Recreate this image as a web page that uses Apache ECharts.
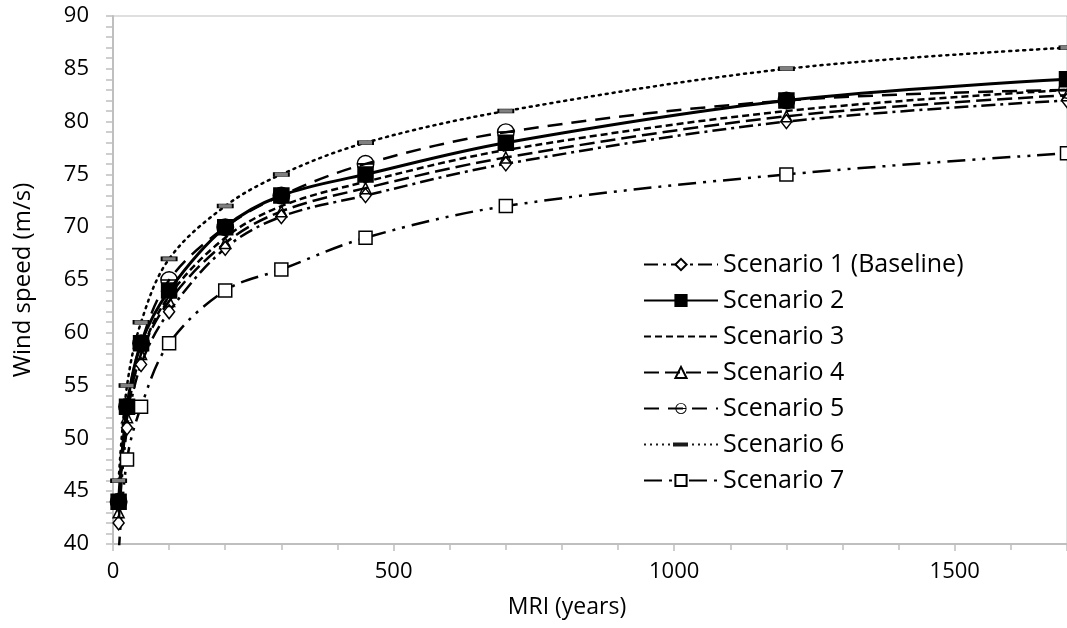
<!DOCTYPE html>
<html>
<head>
<meta charset="utf-8">
<script src="https://cdn.jsdelivr.net/npm/echarts@6/dist/echarts.min.js"></script>
<style>
html,body{margin:0;padding:0;background:#fff;}
#main{width:1067px;height:628px;}
</style>
</head>
<body>
<div id="main"></div>
<script>
// MRI (years)
var mri = [10, 25, 50, 100, 200, 300, 450, 700, 1200, 1700];
// wind speed (m/s)
var s1 = [42, 51, 57, 62, 68, 71, 73, 76, 80, 82];
var s2 = [44, 53, 59, 64, 70, 73, 75, 78, 82, 84];
var s3 = [43.5, 52, 58, 63.5, 69, 72, 74.3, 77.3, 81, 83];
var s4 = [43, 52, 58, 63, 68.5, 71.5, 73.7, 76.6, 80.5, 82.5];
var s5 = [44, 53, 59, 65, 70, 73, 76, 79, 82, 83];
var s6 = [46, 55, 61, 67, 72, 75, 78, 81, 85, 87];
var s7 = [39, 48, 53, 59, 64, 66, 69, 72, 75, 77];
var names = ['Scenario 1 (Baseline)', 'Scenario 2', 'Scenario 3', 'Scenario 4', 'Scenario 5', 'Scenario 6', 'Scenario 7'];

var font = '"Open Sans", "DejaVu Sans", sans-serif';
// circle with a bar through it
var circleBar = 'path://M0,-10 A10,10 0 1,1 0,10 A10,10 0 1,1 0,-10 Z M0,-8.4 A8.4,8.4 0 1,0 0,8.4 A8.4,8.4 0 1,0 0,-8.4 Z M-9,-0.9 L9,-0.9 L9,0.9 L-9,0.9 Z';

// legend sample for scenario 6: dots with a small bar in the middle
function dotBarIcon(){
	var p = 'path://';
	var xs = [1, 7, 13, 19, 25, 49, 55, 61, 67, 73];
	for(var i=0;i<xs.length;i++){
		p += 'M' + xs[i] + ',6 L' + (xs[i]+2) + ',6 L' + (xs[i]+2) + ',8 L' + xs[i] + ',8 Z ';
	}
	p += 'M30,5 L45,5 L45,9 L30,9 Z';
	return p;
}

function pairs(ys){
	var out = [];
	for(var i=0;i<mri.length;i++){
		out.push([mri[i], ys[i]]);
	}
	return out;
}

function line(name, ys, dash, width, symbol, size, fill){
	return {
		name: name,
		type: 'line',
		smooth: 0.35,
		data: pairs(ys),
		symbol: symbol,
		symbolSize: size,
		showAllSymbol: true,
		clip: true,
		lineStyle: {color: '#000', width: width, type: dash, cap: 'butt'},
		itemStyle: {color: fill, borderColor: '#000', borderWidth: 1.5},
		emphasis: {disabled: true}
	};
}

var legendData = [];
for(var i=0;i<names.length;i++){
	legendData.push({name: names[i]});
}
legendData[5].icon = dotBarIcon();
legendData[5].itemStyle = {color: '#1a1a1a', borderWidth: 0};

var chart = echarts.init(document.getElementById('main'));
var option = {
	animation: false,
	backgroundColor: '#fff',
	grid: {
		left: 113, top: 16, width: 959, height: 528,
		show: true, borderColor: '#bfbfbf', borderWidth: 1, backgroundColor: 'transparent'
	},
	legend: {
		orient: 'vertical',
		left: 638,
		top: 247,
		itemWidth: 74,
		itemHeight: 14,
		itemGap: 11,
		data: legendData,
		textStyle: {fontFamily: font, fontSize: 25, color: '#000'}
	},
	xAxis: {
		type: 'value',
		min: 0, max: 1700, interval: 500,
		name: 'MRI (years)',
		nameLocation: 'middle',
		nameGap: 52,
		nameTextStyle: {fontFamily: font, fontSize: 23, color: '#000', padding: [0, 46, 0, 0]},
		axisLine: {show: true, lineStyle: {color: '#bfbfbf', width: 2}},
		axisTick: {show: true, length: 7, lineStyle: {color: '#bfbfbf', width: 1.5}},
		minorTick: {show: true, splitNumber: 5, length: 6, lineStyle: {color: '#bfbfbf', width: 1.5}},
		splitLine: {show: false},
		axisLabel: {
			fontFamily: font, fontSize: 22, color: '#000', margin: 17, showMaxLabel: false,
			formatter: function(v){ return String(v); }
		}
	},
	yAxis: {
		type: 'value',
		min: 40, max: 90, interval: 5,
		name: 'Wind speed (m/s)',
		nameLocation: 'middle',
		nameGap: 78,
		nameTextStyle: {fontFamily: font, fontSize: 24, color: '#000'},
		axisLine: {show: true, lineStyle: {color: '#bfbfbf', width: 2}},
		axisTick: {show: true, length: 7, lineStyle: {color: '#bfbfbf', width: 1.5}},
		minorTick: {show: true, splitNumber: 5, length: 7, lineStyle: {color: '#bfbfbf', width: 1.5}},
		splitLine: {show: false},
		axisLabel: {fontFamily: font, fontSize: 22, color: '#000', margin: 24}
	},
	series: [
		line(names[0], s1, [14, 5, 3, 5], 2.5, 'diamond', [11, 14], '#fff'),
		line(names[1], s2, 'solid', 3, 'rect', 15, '#000'),
		line(names[2], s3, [7, 4], 2.5, 'circle', 12, 'rgba(0,0,0,0)'),
		line(names[3], s4, [15, 6], 2.5, 'triangle', 11, 'rgba(0,0,0,0)'),
		line(names[4], s5, [15, 9], 2.5, circleBar, 18, '#000'),
		line(names[5], s6, [2, 5], 2.5, 'rect', [15, 4], '#808080'),
		line(names[6], s7, [18, 7, 3, 7, 3, 7], 2.5, 'rect', 13, '#fff')
	]
};
// scenario 3 has no markers
option.series[2].showSymbol = false;
option.series[2].itemStyle.borderWidth = 0;
option.series[4].itemStyle.borderWidth = 0;
option.series[5].itemStyle.borderWidth = 1;
option.series[5].lineStyle.cap = 'round';
chart.setOption(option);
</script>
</body>
</html>
